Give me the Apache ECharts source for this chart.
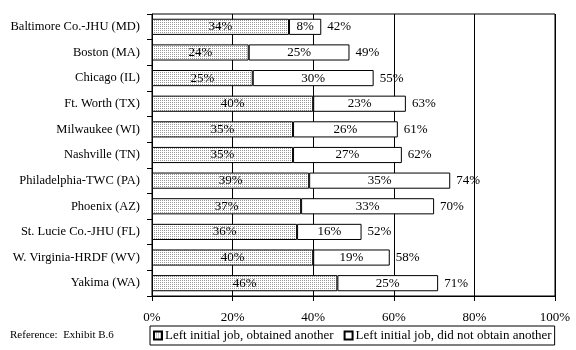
<!DOCTYPE html>
<html>
<head>
<meta charset="utf-8">
<script src="https://cdn.jsdelivr.net/npm/echarts@6/dist/echarts.min.js"></script>
<style>
html,body{margin:0;padding:0;background:#fff;}
#chart{width:576px;height:350px;}
</style>
</head>
<body>
<div id="chart"></div>
<script>
const categories = ['Baltimore Co.-JHU (MD)','Boston (MA)','Chicago (IL)','Ft. Worth (TX)','Milwaukee (WI)','Nashville (TN)','Philadelphia-TWC (PA)','Phoenix (AZ)','St. Lucie Co.-JHU (FL)','W. Virginia-HRDF (WV)','Yakima (WA)'];
const obtainedAnother = [34,24,25,40,35,35,39,37,36,40,46];
const didNotObtain = [8,25,30,23,26,27,35,33,16,19,25];
const totals = [42,49,55,63,61,62,74,70,52,58,71];
const xTicks = [0,20,40,60,80,100];
const seriesNames = ['Left initial job, obtained another','Left initial job, did not obtain another'];
const footnote = 'Reference:  Exhibit B.6';

const pc = document.createElement('canvas');
pc.width = 2; pc.height = 2;
const px = pc.getContext('2d');
px.fillStyle = '#ffffff'; px.fillRect(0,0,2,2);
px.fillStyle = '#999999'; px.fillRect(0,0,1,1);
const pattern = {image: pc, repeat: 'repeat'};

const FONT = 'Liberation Serif';
const chart = echarts.init(document.getElementById('chart'), null, {renderer:'canvas'});
chart.setOption({
  animation: false,
  backgroundColor: '#fff',
  textStyle: {fontFamily: FONT, color: '#000'},
  grid: {left: 152, right: 21, top: 14, bottom: 54, show: true, borderColor: '#000', borderWidth: 1, backgroundColor: 'transparent'},
  xAxis: {
    type: 'value', min: xTicks[0], max: xTicks[xTicks.length-1], interval: 20,
    axisLine: {show: true, lineStyle: {color: '#000', width: 1}},
    axisTick: {show: true, length: 5, lineStyle: {color: '#000'}},
    splitLine: {show: true, lineStyle: {color: '#000', width: 1}},
    axisLabel: {formatter: '{value}%', color: '#000', fontFamily: FONT, fontSize: 13, margin: 15}
  },
  yAxis: {
    type: 'category', data: categories, inverse: true,
    axisLine: {show: true, lineStyle: {color: '#000', width: 1}},
    axisTick: {show: true, length: 5, lineStyle: {color: '#000'}},
    axisLabel: {color: '#000', fontFamily: FONT, fontSize: 12.5, margin: 12}
  },
  legend: {
    left: 150, top: 326, orient: 'horizontal',
    data: seriesNames,
    itemWidth: 8, itemHeight: 8, itemGap: 10,
    borderColor: '#000', borderWidth: 1, borderRadius: 0, padding: [3, 3, 3, 3],
    textStyle: {fontFamily: FONT, fontSize: 13, color: '#000', padding: [0,0,0,-2]},
    icon: 'rect'
  },
  graphic: [{
    type: 'text', left: 10, top: 330,
    style: {text: footnote, font: '11px "Liberation Serif"', fill: '#000'}
  }],
  series: [
    {
      name: seriesNames[0], type: 'bar', stack: 't', data: obtainedAnother, barCategoryGap: '37%',
      itemStyle: {color: pattern, borderColor: '#000', borderWidth: 1},
      label: {show: true, position: 'inside', formatter: '{c}%', color: '#000', fontFamily: FONT, fontSize: 13}
    },
    {
      name: seriesNames[1], type: 'bar', stack: 't', data: didNotObtain,
      itemStyle: {color: '#fff', borderColor: '#000', borderWidth: 1},
      label: {show: true, position: 'inside', formatter: '{c}%', color: '#000', fontFamily: FONT, fontSize: 13}
    },
    {
      name: 'total', type: 'bar', stack: 't', data: totals.map(() => 0),
      itemStyle: {color: 'transparent'},
      label: {show: true, position: 'right', distance: 6, formatter: p => totals[p.dataIndex] + '%', color: '#000', fontFamily: FONT, fontSize: 13},
      silent: true
    }
  ]
});
</script>
</body>
</html>
